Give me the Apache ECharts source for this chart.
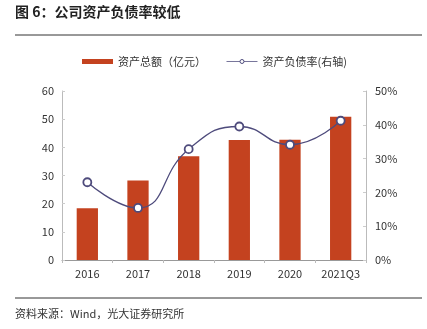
<!DOCTYPE html>
<html><head><meta charset="utf-8">
<script src="https://cdn.jsdelivr.net/npm/echarts@6/dist/echarts.min.js"></script>
<style>html,body{margin:0;padding:0;background:#fff}#c{width:427px;height:329px}</style>
</head><body><div id="c"></div>
<script>
const categories = ['2016','2017','2018','2019','2020','2021Q3'];
const totalAssets = [18.4, 28.2, 36.8, 42.6, 42.7, 50.9];
const debtRatio = [23.0, 15.4, 32.8, 39.5, 34.1, 41.2];
const leftTicks = [0,10,20,30,40,50,60];
const rightTicks = [0,10,20,30,40,50];
const F = '"Noto Sans CJK SC", "Noto Sans", sans-serif';
const chart = echarts.init(document.getElementById('c'));
chart.setOption({
  animation:false,
  textStyle:{fontFamily:F},
  graphic:[
    {type:'text',left:15,top:5,style:{text:'图 6：公司资产负债率较低',font:'bold 14px '+F,fill:'#222'}},
    {type:'line',shape:{x1:15,y1:35,x2:422,y2:35},style:{stroke:'#333',lineWidth:1}},
    {type:'line',shape:{x1:15,y1:298,x2:422,y2:298},style:{stroke:'#333',lineWidth:1}},
    {type:'text',left:15,top:308,style:{text:'资料来源：Wind，光大证券研究所',font:'11px '+F,fill:'#333'}}
  ],
  legend:{top:51,left:77,itemGap:20,textStyle:{fontSize:11,color:'#333',fontFamily:F},
    data:[{name:'资产总额（亿元）',icon:'rect'},
          {name:'资产负债率(右轴)',lineStyle:{width:1,color:'#77759A'},itemStyle:{borderWidth:1,borderColor:'#4E4B7C'}}],
    itemWidth:31,itemHeight:5},
  grid:{left:62,right:61,top:91,bottom:69},
  xAxis:{type:'category',data:categories,
    axisLine:{lineStyle:{color:'#999'}},axisTick:{show:true,lineStyle:{color:'#bbb'},length:3},
    axisLabel:{color:'#333',fontSize:11,margin:8}},
  yAxis:[
    {type:'value',min:0,max:60,interval:10,splitLine:{show:false},
     axisLine:{show:true,lineStyle:{color:'#bbb'}},axisTick:{show:true,inside:true,length:3,lineStyle:{color:'#ccc'}},
     axisLabel:{color:'#333',fontSize:11,margin:8}},
    {type:'value',min:0,max:50,interval:10,splitLine:{show:false},
     axisLine:{show:true,lineStyle:{color:'#bbb'}},axisTick:{show:true,inside:true,length:3,lineStyle:{color:'#ccc'}},
     axisLabel:{color:'#333',fontSize:11,margin:9,formatter:v=>v+'%'}}
  ],
  series:[
    {name:'资产总额（亿元）',type:'bar',data:totalAssets,barWidth:'42%',itemStyle:{color:'#C4421F'}},
    {name:'资产负债率(右轴)',type:'line',yAxisIndex:1,data:debtRatio,smooth:true,
     symbol:'circle',symbolSize:8,lineStyle:{color:'#4E4B7C',width:1.3},
     itemStyle:{color:'#fff',borderColor:'#4E4B7C',borderWidth:1.8}}
  ]
});
</script></body></html>
